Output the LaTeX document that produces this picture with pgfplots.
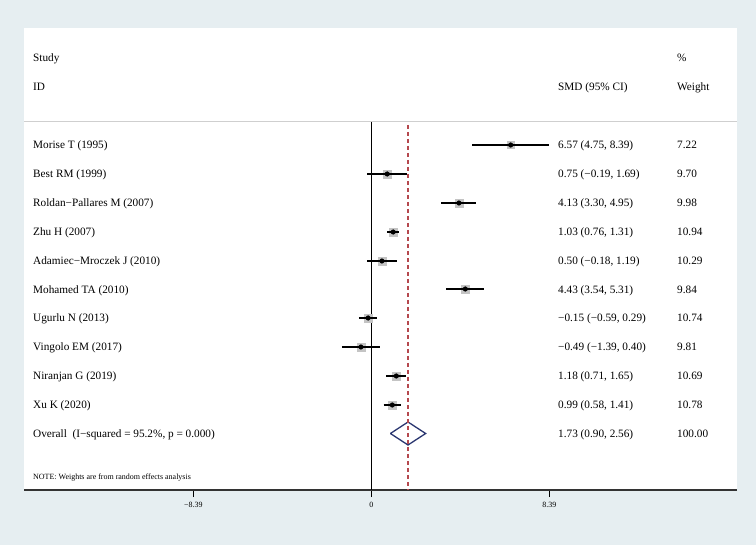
\documentclass[border=0pt]{standalone}
\usepackage{pgfplots}
\pgfplotsset{compat=1.18}
\usepackage{pgfplotstable}
\usepackage{fontspec}
\setmainfont{Liberation Serif}
\definecolor{bg}{HTML}{E6EEF1}
\definecolor{boxgray}{HTML}{C4C4C4}
\definecolor{navy}{HTML}{2A3670}
\definecolor{refred}{HTML}{B5484E}
\definecolor{sepgray}{HTML}{CFCFCF}
\newcommand\fs{\fontsize{11.3}{13}\selectfont}
\newcommand\fss{\fontsize{8}{9}\selectfont}

\pgfplotstableread{
est lo hi w y
6.57 4.75 8.39 7.22 -145
0.75 -0.19 1.69 9.70 -174
4.13 3.30 4.95 9.98 -203
1.03 0.76 1.31 10.94 -232
0.50 -0.18 1.19 10.29 -261
4.43 3.54 5.31 9.84 -289
-0.15 -0.59 0.29 10.74 -318
-0.49 -1.39 0.40 9.81 -347
1.18 0.71 1.65 10.69 -376
0.99 0.58 1.41 10.78 -405
}\studies

\pgfplotstableread{
x y
4.75 -145
8.39 -145
nan nan
-0.19 -174
1.69 -174
nan nan
3.30 -203
4.95 -203
nan nan
0.76 -232
1.31 -232
nan nan
-0.18 -261
1.19 -261
nan nan
3.54 -289
5.31 -289
nan nan
-0.59 -318
0.29 -318
nan nan
-1.39 -347
0.40 -347
nan nan
0.71 -376
1.65 -376
nan nan
0.58 -405
1.41 -405
}\cis

\begin{document}
\begin{tikzpicture}
\fill[bg] (0,0) rectangle (756bp,545bp);
\fill[white] (24bp,55bp) rectangle (737bp,517bp);
\begin{axis}[
  at={(24bp,55bp)}, anchor=south west,
  scale only axis, width=713bp, height=462bp,
  xmin=-16.370, xmax=17.237, ymin=-490, ymax=-28,
  axis x line*=bottom, hide y axis,
  x axis line style={draw=black!80, line width=1.3bp},
  xtick={-8.39,0,8.39}, xticklabels={−8.39,0,8.39},
  tick align=outside, major tick length=7bp,
  xtick style={black, line width=1bp},
  xticklabel style={font=\fss, yshift=-2bp},
  clip=false, clip marker paths=true,
]
\addplot[sepgray, line width=1bp] coordinates {(-16.370,-122) (17.237,-122)};
\addplot[black, line width=1.2bp] coordinates {(0,-122) (0,-490)};
\addplot[scatter, only marks, mark=square*,
  scatter/use mapped color={draw=boxgray, fill=boxgray},
  visualization depends on={1.3*sqrt(\thisrow{w}) \as \msz},
  scatter/@pre marker code/.append style={/tikz/mark size=\msz}]
  table[x=est, y=y] {\studies};
\addplot[black, line width=1.4bp, mark=none, unbounded coords=jump] table[x=x, y=y] {\cis};
\addplot[only marks, mark=*, mark size=2.3bp, black] table[x=est, y=y] {\studies};
\addplot[navy, line width=1.3bp, line join=miter] coordinates {(0.90,-433.5) (1.73,-422) (2.56,-433.5) (1.73,-445) (0.90,-433.5)};
\addplot[refred, dash pattern=on 4bp off 3bp, line width=1.1bp] coordinates {(1.73,-125) (1.73,-490)};
\end{axis}
\begin{scope}[x=1bp, y=-1bp, yshift=545bp, every node/.style={anchor=base west, inner sep=0pt, font=\fs}]
\node at (33,61.8) {Study};
\node at (33,90.8) {ID};
\node at (558,90.8) {SMD (95\% CI)};
\node at (677,61.8) {\%};
\node at (677,90.8) {Weight};
\foreach \py/\name/\smd/\wt in {
  145.00/Morise T (1995)/6.57 (4.75{,} 8.39)/7.22,
  173.85/Best RM (1999)/0.75 (−0.19{,} 1.69)/9.70,
  202.70/Roldan−Pallares M (2007)/4.13 (3.30{,} 4.95)/9.98,
  231.55/Zhu H (2007)/1.03 (0.76{,} 1.31)/10.94,
  260.40/Adamiec−Mroczek J (2010)/0.50 (−0.18{,} 1.19)/10.29,
  289.25/Mohamed TA (2010)/4.43 (3.54{,} 5.31)/9.84,
  318.10/Ugurlu N (2013)/−0.15 (−0.59{,} 0.29)/10.74,
  346.95/Vingolo EM (2017)/−0.49 (−1.39{,} 0.40)/9.81,
  375.80/Niranjan G (2019)/1.18 (0.71{,} 1.65)/10.69,
  404.65/Xu K (2020)/0.99 (0.58{,} 1.41)/10.78,
  433.50/Overall\ \ (I−squared = 95.2\%{,} p = 0.000)/1.73 (0.90{,} 2.56)/100.00}{
  \node at (33,\py+3.8) {\name};
  \node at (558,\py+3.8) {\smd};
  \node at (677,\py+3.8) {\wt};
}
\node[font=\fss] at (33,479.5) {NOTE: Weights are from random effects analysis};
\end{scope}
\end{tikzpicture}
\end{document}
